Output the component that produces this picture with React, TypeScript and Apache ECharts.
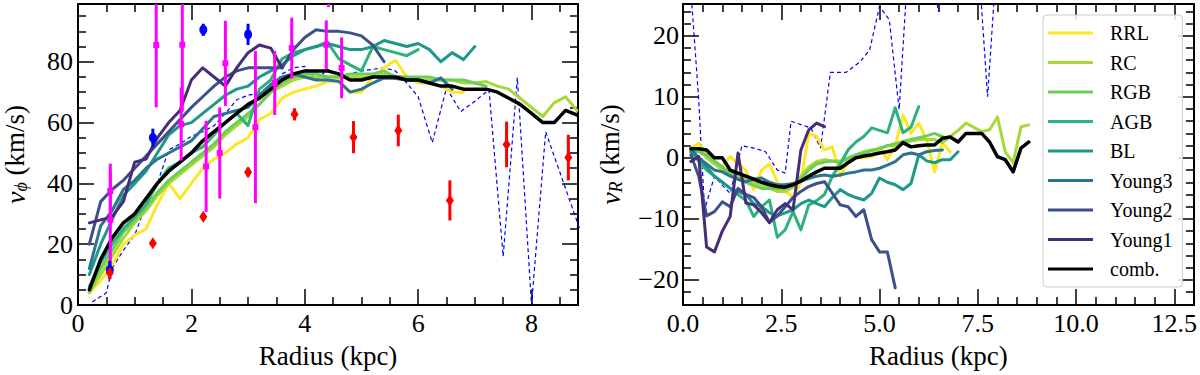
import React, { useEffect, useRef } from 'react';
import * as echarts from 'echarts';

const FONT = "'Liberation Serif', 'Times New Roman', serif";

const NAMES = ['RRL', 'RC', 'RGB', 'AGB', 'BL', 'Young3', 'Young2', 'Young1', 'comb.'];
const COLORS = ['#fde725', '#a5d938', '#6cce59', '#2db27d', '#1f988b', '#2b768e', '#3c508b', '#472c7a', '#000000'];

// ---------- left panel: v_phi ----------
const RRL_phi = [[0.2,4],[0.4,8],[0.6,13],[0.8,20],[1.0,23],[1.2,25],[1.4,33],[1.6,40],[1.8,35],[2.0,40],[2.2,45],[2.4,48],[2.6,50],[2.8,53],[3.0,55],[3.2,61],[3.4,63],[3.6,68],[3.8,70],[4.0,71],[4.2,72],[4.4,73.5],[4.6,74],[4.8,70],[5.0,70],[5.2,75],[5.4,78],[5.6,80.5],[5.8,75],[6.0,73],[6.2,73],[6.4,72],[6.6,70],[6.8,70]];
const RC_phi = [[0.2,4],[0.4,10],[0.6,16],[0.8,22],[1.0,27],[1.2,31],[1.4,36],[1.6,40],[1.8,43],[2.0,46],[2.2,49],[2.4,52],[2.6,56],[2.8,59],[3.0,62],[3.2,66],[3.4,70],[3.6,72],[3.8,74],[4.0,75],[4.2,75],[4.4,75],[4.6,75],[4.8,75],[5.0,75],[5.2,75],[5.4,76],[5.6,75],[5.8,75],[6.0,74],[6.2,74],[6.4,74],[6.6,74],[6.8,73],[7.0,73],[7.2,73.5],[7.4,72],[7.6,71],[7.8,68],[8.0,65],[8.2,62],[8.4,66.5],[8.6,68.5],[8.8,64]];
const RGB_phi = [[0.2,5],[0.4,12],[0.6,18],[0.8,24],[1.0,28],[1.2,32],[1.4,37],[1.6,41],[1.8,44],[2.0,47],[2.2,50],[2.4,53],[2.6,57],[2.8,60],[3.0,63],[3.2,66],[3.4,70],[3.6,73],[3.8,75],[4.0,76],[4.2,76],[4.4,75],[4.6,75],[4.8,76],[5.0,76],[5.2,76],[5.4,77],[5.6,75],[5.8,75],[6.0,75],[6.2,75],[6.4,74],[6.6,74],[6.8,74],[7.0,73],[7.2,72]];
const AGB_phi = [[0.2,6],[0.4,14],[0.6,20],[0.8,25],[1.0,29],[1.2,33],[1.4,40],[1.6,45],[1.8,47],[2.0,50],[2.2,52],[2.4,56],[2.6,60],[2.8,63],[3.0,59],[3.2,71],[3.4,74],[3.6,81],[3.8,83],[4.0,84],[4.2,85],[4.4,86.5],[4.6,81],[4.8,79],[5.0,77],[5.2,85],[5.4,84],[5.6,83],[5.8,82],[6.0,84]];
const BL_phi = [[0.2,10],[0.4,20],[0.6,28],[0.8,36],[1.0,40],[1.2,44],[1.4,50],[1.6,56],[1.8,59],[2.0,60],[2.2,63],[2.4,66],[2.6,69],[2.8,71],[3.0,72],[3.2,75],[3.4,77],[3.6,79],[3.8,82],[4.0,84],[4.2,85],[4.4,86],[4.6,85],[4.8,84],[5.0,84],[5.2,85],[5.4,87],[5.6,86],[5.8,85],[6.0,86],[6.2,84],[6.4,80],[6.6,83],[6.8,80.7],[7.0,85]];
const Young3_phi = [[0.2,12],[0.4,26],[0.6,31],[0.8,38],[1.0,41],[1.2,45],[1.4,48],[1.6,50],[1.8,52],[2.0,54],[2.2,58],[2.4,62],[2.6,63],[2.8,64],[3.0,65],[3.2,69],[3.4,72.5],[3.6,75],[3.8,76],[4.0,75],[4.2,74],[4.4,74],[4.6,73.5],[4.8,70],[5.0,71],[5.2,73],[5.4,74.7],[5.6,74.5],[5.8,74],[6.0,74],[6.2,73],[6.4,74.7],[6.6,71]];
const Young2_phi = [[0.2,20],[0.4,34],[0.6,38],[0.8,41],[1.0,45],[1.2,49],[1.4,53],[1.6,57],[1.8,61],[2.0,65],[2.2,68.5],[2.4,72],[2.6,75],[2.8,77],[3.0,78],[3.2,78],[3.4,78],[3.6,78],[3.8,84],[4.0,88],[4.2,90.5],[4.4,90],[4.6,90],[4.8,89.5],[5.0,88.5],[5.2,85.5],[5.4,80]];
const Young1_phi = [[0.2,27],[0.4,28],[0.6,29],[0.8,34],[1.0,47],[1.2,48],[1.4,55],[1.6,60],[1.8,64],[2.0,74],[2.2,78],[2.4,75],[2.6,72],[2.8,78],[3.0,83],[3.2,85.5],[3.4,84.5],[3.6,78]];
const comb_phi = [[0.2,5],[0.4,15],[0.6,22],[0.8,27],[1.0,30],[1.2,35],[1.4,40],[1.6,44],[1.8,47],[2.0,50],[2.2,54],[2.4,57],[2.6,60],[2.8,63],[3.0,66],[3.2,68],[3.4,71],[3.6,74],[3.8,76],[4.0,77],[4.2,77],[4.4,77],[4.6,76],[4.8,74],[5.0,74],[5.2,75],[5.4,75],[5.6,75],[5.8,74],[6.0,74],[6.2,73],[6.4,72],[6.6,72],[6.8,71],[7.0,71],[7.2,71],[7.4,70],[7.6,68],[7.8,66],[8.0,63],[8.2,60],[8.4,60],[8.6,64],[8.8,62.5]];
const dash_phi = [[0.25,1],[0.5,4],[0.6,12],[0.8,18],[1.0,23],[1.2,33],[1.4,40],[1.6,51],[1.8,53],[2.0,55.5],[2.2,57],[2.4,59],[2.6,63],[2.8,67.5],[3.0,69],[3.2,69.7],[3.4,71],[3.6,76],[3.8,78],[4.0,78.5],[4.2,74],[4.4,77.4],[4.6,76],[4.8,76],[5.0,77],[5.2,77.5],[5.4,78],[5.6,77],[5.8,73],[6.0,68.5],[6.25,53.4],[6.5,71.4],[6.75,63.6],[7.0,67],[7.25,70.8],[7.5,16],[7.75,74.8],[8.0,0],[8.25,57],[8.85,25],[9.0,19]];

const magentaR = [0.57, 0.57, 1.38, 1.84, 1.82, 2.26, 2.5, 2.6, 3.13, 3.47, 3.77, 4.38, 4.65, 4.42];
const magentaV = [37.5, 28, 85.5, 85.6, 59.5, 45.6, 50, 79.5, 58.5, 73, 84.5, 85.6, 78, 104];
const magentaE = [9, 16, 20.5, 22, 12, 15, 15, 14, 25, 10.5, 10, 8, 10, 6];

const blueR = [0.56, 1.32, 2.21, 3.0];
const blueV = [11.5, 55, 90.5, 89];
const blueE = [3, 3, 2, 3.5];

const redR = [0.56, 1.32, 2.21, 3.0, 3.82, 4.86, 5.65, 6.56, 7.56, 8.65];
const redV = [10.5, 20.3, 29, 43.7, 62.7, 55.2, 57.4, 34.4, 52.8, 48.5];
const redE = [2, 0.5, 0.8, 1.5, 2, 5.3, 5.2, 6.6, 7.5, 7.5];

// ---------- right panel: v_R ----------
const RRL_R = [[0.2,1.6],[0.4,2.4],[0.6,0.5],[0.8,-0.5],[1.0,-1.5],[1.2,0.2],[1.4,-1],[1.6,-2],[1.8,-5.2],[2.0,-2],[2.2,-1],[2.4,-4],[2.6,-5.5],[2.8,-6.4],[3.0,-4],[3.2,4],[3.4,3.5],[3.6,1.3],[3.8,1.8],[4.0,-3],[4.2,-0.6],[4.4,0],[4.6,0],[4.8,0.2],[5.0,1.8],[5.2,-0.3],[5.4,2],[5.6,7],[5.8,4],[6.0,5.7],[6.2,3],[6.4,-2.3],[6.6,2.4],[6.8,1]];
const RC_R = [[0.2,1],[0.4,1.5],[0.6,0],[0.8,-1],[1.0,-2],[1.2,-2.5],[1.4,-3],[1.6,-3.5],[1.8,-4],[2.0,-4.5],[2.2,-5],[2.4,-5.5],[2.6,-5.5],[2.8,-4.8],[3.0,-3],[3.2,-1.5],[3.4,-0.6],[3.6,-0.3],[3.8,-0.5],[4.0,-0.5],[4.2,-0.3],[4.4,0.5],[4.6,1],[4.8,1.3],[5.0,1.5],[5.2,2],[5.4,2],[5.6,2.5],[5.8,2.7],[6.0,3],[6.2,3],[6.4,3],[6.6,2.5],[6.8,3.5],[7.0,4.5],[7.2,5.7],[7.4,5],[7.6,4.3],[7.8,4.6],[8.0,6.7],[8.2,1],[8.4,-0.8],[8.6,5.1],[8.8,5.4]];
const RGB_R = [[0.2,1],[0.4,1],[0.6,0.5],[0.8,-0.5],[1.0,-1.5],[1.2,-2.5],[1.4,-3.5],[1.6,-4],[1.8,-4.5],[2.0,-5],[2.2,-5],[2.4,-5],[2.6,-5],[2.8,-4.5],[3.0,-3.5],[3.2,-2],[3.4,-1],[3.6,-0.7],[3.8,-0.5],[4.0,-0.8],[4.2,0],[4.4,0.5],[4.6,0.8],[4.8,1.2],[5.0,1.5],[5.2,2],[5.4,2.3],[5.6,2.7],[5.8,3],[6.0,3.3],[6.2,3.6],[6.4,4],[6.6,3.5]];
const AGB_R = [[0.2,1],[0.4,-0.5],[0.6,-2],[0.8,-3],[1.0,-4],[1.2,-5],[1.4,-6],[1.6,-7],[1.8,-9.6],[2.0,-8],[2.2,-6.9],[2.4,-13],[2.6,-11.8],[2.8,-8.8],[3.0,-11.8],[3.2,-7.7],[3.4,-7],[3.6,-6],[3.8,-3],[4.0,-1],[4.2,1.3],[4.4,2.6],[4.6,3.5],[4.8,4.9],[5.0,4.5],[5.2,4.1],[5.4,8.2],[5.6,4.1],[5.8,5],[6.0,8.4]];
const BL_R = [[0.2,1],[0.4,0],[0.6,-1.5],[0.8,-3],[1.0,-4],[1.2,-5],[1.4,-5.5],[1.6,-6],[1.8,-7.5],[2.0,-8],[2.2,-9],[2.4,-9.5],[2.6,-9],[2.8,-8.5],[3.0,-7.5],[3.2,-6.9],[3.4,-7.5],[3.6,-8],[3.8,-6.5],[4.0,-5.2],[4.2,-6],[4.4,-6.5],[4.6,-6.9],[4.8,-5.8],[5.0,-3.3],[5.2,-4],[5.4,-4.4],[5.6,-5.2],[5.8,-4.2],[6.0,0.5],[6.2,-0.5],[6.4,-0.8],[6.6,-0.3],[6.8,-0.3],[7.0,1]];
const Young3_R = [[0.2,1.5],[0.4,0],[0.6,-1],[0.8,-2],[1.0,-2.3],[1.2,-3],[1.4,-3.5],[1.6,-3.9],[1.8,-3.5],[2.0,-3.3],[2.2,-4],[2.4,-4.4],[2.6,-4.4],[2.8,-4.2],[3.0,-3.8],[3.2,-3.4],[3.4,-3],[3.6,-2.8],[3.8,-3],[4.0,-2.8],[4.2,-2.5],[4.4,-2.3],[4.6,-2],[4.8,-2],[5.0,-1.7],[5.2,-1.2],[5.4,-0.6],[5.6,0.5],[5.8,0.8],[6.0,0.5],[6.2,1],[6.4,1.2],[6.6,1.3]];
const Young2_R = [[0.2,0.5],[0.4,-3],[0.6,-9.5],[0.8,-8.8],[1.0,-7.2],[1.2,-8],[1.4,-5],[1.6,-6],[1.8,-6.5],[2.0,-8],[2.2,-10.6],[2.4,-9.5],[2.6,-8],[2.8,-6.5],[3.0,-5.5],[3.2,-4.7],[3.4,-4.2],[3.6,-3.9],[3.8,-5.8],[4.0,-7.7],[4.2,-8],[4.4,-9.6],[4.6,-8.5],[4.8,-13.4],[5.0,-15.4],[5.2,-15.4],[5.4,-21.3]];
const Young1_R = [[0.2,-0.6],[0.4,0.2],[0.6,-14.6],[0.8,-15.4],[1.0,-12],[1.2,-9.6],[1.4,0.8],[1.6,-7.4],[1.8,-7.7],[2.0,-9],[2.2,-10.6],[2.4,-8.5],[2.6,-7.5],[2.8,-8.5],[3.0,1.3],[3.2,4.6],[3.4,5.7],[3.6,5.1]];
const comb_R = [[0.2,1.5],[0.4,1.5],[0.6,1.3],[0.8,0],[1.0,0],[1.2,-2],[1.4,-2.5],[1.6,-3],[1.8,-3.5],[2.0,-4],[2.2,-4.4],[2.4,-4.7],[2.6,-4.8],[2.8,-4.4],[3.0,-3.8],[3.2,-3],[3.4,-2.3],[3.6,-1.7],[3.8,-1.7],[4.0,-1.7],[4.2,-0.8],[4.4,0],[4.6,0.3],[4.8,0.5],[5.0,0.8],[5.2,1.0],[5.4,1.3],[5.6,2.5],[5.8,1.8],[6.0,2.0],[6.2,2.1],[6.4,2.1],[6.6,3.2],[6.8,3.4],[7.0,2.6],[7.2,4],[7.4,4],[7.6,4],[7.8,2.6],[8.0,0.2],[8.2,-0.3],[8.4,-2.3],[8.6,1.6],[8.8,2.6]];
const dash_R = [[0.15,32],[0.4,9.5],[0.55,-8.5],[0.8,-3],[1.0,-4.5],[1.2,-5.8],[1.5,2],[1.8,1.6],[2.1,1],[2.4,-2],[2.6,-2.5],[2.75,6],[3.25,4.9],[3.5,1.6],[3.75,14],[4.15,14],[4.5,15.7],[4.75,17.7],[5.0,24.8],[5.25,22.6],[5.5,7.9],[5.75,34],[6.25,34],[6.5,24],[6.75,34],[7.5,34],[7.75,10],[8.0,34],[8.5,34]];

const LEFT_X_MAJOR = [0, 2, 4, 6, 8];
const LEFT_X_MINOR = [0.5,1,1.5,2.5,3,3.5,4.5,5,5.5,6.5,7,7.5,8.5];
const LEFT_Y_MAJOR = [0, 20, 40, 60, 80];
const LEFT_Y_MINOR = [5,10,15,25,30,35,45,50,55,65,70,75,85,90,95];
const RIGHT_X_MAJOR = [0, 2.5, 5, 7.5, 10, 12.5];
const RIGHT_X_MINOR = [0.5,1,1.5,2,3,3.5,4,4.5,5.5,6,6.5,7,8,8.5,9,9.5,10.5,11,11.5,12,13];
const RIGHT_Y_MAJOR = [-20, -10, 0, 10, 20];
const RIGHT_Y_MINOR = [-24,-22,-18,-16,-14,-12,-8,-6,-4,-2,2,4,6,8,12,14,16,18,22,24];

const PHI_SERIES = [RRL_phi, RC_phi, RGB_phi, AGB_phi, BL_phi, Young3_phi, Young2_phi, Young1_phi, comb_phi];
const R_SERIES = [RRL_R, RC_R, RGB_R, AGB_R, BL_R, Young3_R, Young2_R, Young1_R, comb_R];

const tickStyle = { color: '#000', width: 1.5 };
const lineStyleAx = { color: '#000', width: 2 };
const minus = (v: number) => (v < 0 ? '\u2212' + String(-v) : String(v));

function makeAxes(dim: 'x' | 'y', grid: number, min: number, max: number, major: number[], minor: number[], fmt: (v: number) => string, name: string, nameGap: number, labelMargin: number) {
  const pos1 = dim === 'x' ? 'bottom' : 'left';
  const pos2 = dim === 'x' ? 'top' : 'right';
  const base = { type: 'value', gridIndex: grid, min, max, splitLine: { show: false }, silent: true };
  const nameStyle = {
    fontFamily: FONT, fontSize: 27, color: '#000',
    rich: {
      i: { fontFamily: FONT, fontSize: 28, fontStyle: 'italic', color: '#000' },
      s: { fontFamily: FONT, fontSize: 18, fontStyle: 'italic', color: '#000', padding: [12, 0, 0, 0] },
    },
  };
  return [
    {
      ...base, position: pos1,
      axisLine: { show: true, onZero: false, lineStyle: lineStyleAx },
      axisTick: { show: true, inside: true, length: 16, customValues: major, lineStyle: tickStyle },
      axisLabel: { show: true, customValues: major, formatter: fmt, fontFamily: FONT, fontSize: 26, color: '#000', margin: labelMargin, showMinLabel: true, showMaxLabel: true },
      name, nameLocation: 'middle', nameGap, nameRotate: dim === 'y' ? 90 : 0, nameTextStyle: nameStyle,
    },
    {
      ...base, position: pos1,
      axisLine: { show: false, onZero: false },
      axisTick: { show: true, inside: true, length: 8, customValues: minor, lineStyle: tickStyle },
      axisLabel: { show: false },
    },
    {
      ...base, position: pos2,
      axisLine: { show: true, onZero: false, lineStyle: lineStyleAx },
      axisTick: { show: true, inside: true, length: 16, customValues: major, lineStyle: tickStyle },
      axisLabel: { show: false },
    },
    {
      ...base, position: pos2,
      axisLine: { show: false, onZero: false },
      axisTick: { show: true, inside: true, length: 8, customValues: minor, lineStyle: tickStyle },
      axisLabel: { show: false },
    },
  ];
}

function lineSeries(name: string, color: string, data: number[][], ax: number, width: number, z: number) {
  return {
    type: 'line', name, data, xAxisIndex: ax, yAxisIndex: ax,
    symbol: 'none', showSymbol: false, clip: true, silent: true, z,
    lineStyle: { color, width, cap: 'round', join: 'round' }, itemStyle: { color },
  };
}

function errorBars(R: number[], V: number[], E: number[], color: string) {
  return {
    type: 'custom', xAxisIndex: 0, yAxisIndex: 0, clip: true, silent: true, z: 6,
    data: R.map((r, i) => [r, V[i], E[i]]),
    encode: { x: 0, y: 1 },
    renderItem: (_p: any, api: any) => {
      const x = api.value(0), y = api.value(1), e = api.value(2);
      const a = api.coord([x, y - e]);
      const b = api.coord([x, y + e]);
      return { type: 'line', shape: { x1: a[0], y1: a[1], x2: b[0], y2: b[1] }, style: { stroke: color, lineWidth: 3 } };
    },
  };
}

function markers(R: number[], V: number[], color: string, symbol: string, size: any) {
  return {
    type: 'scatter', xAxisIndex: 0, yAxisIndex: 0, clip: true, silent: true, z: 7,
    data: R.map((r, i) => [r, V[i]]), symbol, symbolSize: size, itemStyle: { color, opacity: 1 },
  };
}

export default function App() {
  const ref = useRef<HTMLDivElement>(null);
  useEffect(() => {
    if (!ref.current) return;
    const chart = echarts.init(ref.current, null, { renderer: 'svg' });
    const series: any[] = [];
    series.push({ ...lineSeries('dashL', '#0000ff', dash_phi, 0, 1.2, 2), lineStyle: { color: '#0000ff', width: 1.2, type: [4, 3] } });
    series.push({ ...lineSeries('dashR', '#0000ff', dash_R, 4, 1.2, 2), lineStyle: { color: '#0000ff', width: 1.2, type: [4, 3] } });
    NAMES.forEach((n, i) => {
      const w = n === 'comb.' ? 3.5 : 3;
      series.push(lineSeries(n, COLORS[i], PHI_SERIES[i], 0, w, 3 + (i === 8 ? 1 : 0)));
      series.push(lineSeries(n, COLORS[i], R_SERIES[i], 4, w, 3 + (i === 8 ? 1 : 0)));
    });
    series.push(errorBars(magentaR, magentaV, magentaE, '#ff00ff'));
    series.push(errorBars(blueR, blueV, blueE, '#0000ff'));
    series.push(errorBars(redR, redV, redE, '#ff0000'));
    series.push(markers(magentaR, magentaV, '#ff00ff', 'rect', 6));
    series.push(markers(blueR, blueV, '#0000ff', 'circle', [8, 10]));
    series.push(markers(redR, redV, '#ff0000', 'diamond', [8, 12]));

    const xAxis = [
      ...makeAxes('x', 0, 0, 8.82, LEFT_X_MAJOR, LEFT_X_MINOR, (v) => String(v), 'Radius (kpc)', 37, 5),
      ...makeAxes('x', 1, 0, 13, RIGHT_X_MAJOR, RIGHT_X_MINOR, (v) => v.toFixed(1), 'Radius (kpc)', 37, 5),
    ];
    const yAxis = [
      ...makeAxes('y', 0, 0, 99, LEFT_Y_MAJOR, LEFT_Y_MINOR, (v) => String(v), '{i|v}{s|\u03d5} (km/s)', 48, 5),
      ...makeAxes('y', 1, -24.1, 25.2, RIGHT_Y_MAJOR, RIGHT_Y_MINOR, minus, '{i|v}{s|R} (km/s)', 58, 4),
    ];

    chart.setOption({
      animation: false,
      backgroundColor: '#ffffff',
      grid: [
        { left: 75, top: 4, width: 503, height: 301, containLabel: false },
        { left: 683, top: 4, width: 511, height: 301, containLabel: false },
      ],
      xAxis, yAxis,
      legend: {
        data: NAMES, orient: 'vertical', left: 1043, top: 15,
        icon: 'rect', itemWidth: 45, itemHeight: 3, itemGap: 9.5,
        backgroundColor: 'rgba(255,255,255,0.85)', borderColor: '#cccccc', borderWidth: 1, borderRadius: 4,
        padding: [8, 10, 8, 5],
        selectedMode: false,
        formatter: (n: string) => '{t|' + n + '}',
        textStyle: { fontFamily: FONT, fontSize: 20, color: '#000', rich: { t: { fontFamily: FONT, fontSize: 20, color: '#000', lineHeight: 20, padding: [0, 0, 0, 12] } } },
      },
      series,
    });
    return () => chart.dispose();
  }, []);
  return <div ref={ref} style={{ width: 1200, height: 375, position: 'absolute', left: 0, top: 0 }} />;
}
